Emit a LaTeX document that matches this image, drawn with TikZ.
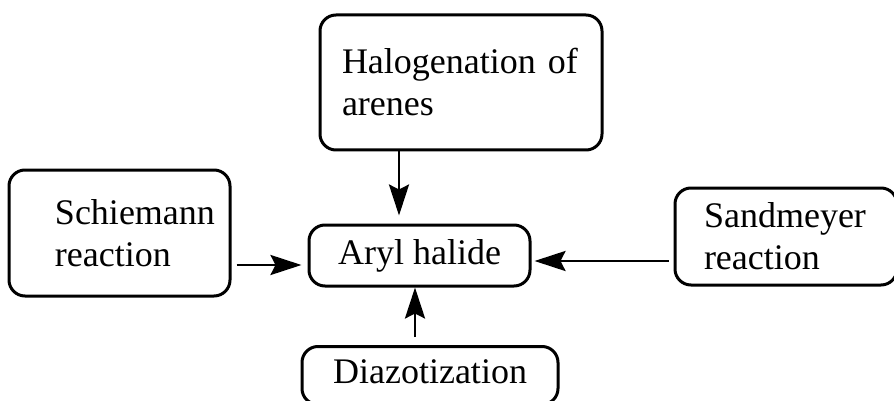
\documentclass[tikz,border=0pt]{standalone}
\usepackage{fontspec}
\setmainfont{Liberation Serif}
\usetikzlibrary{arrows.meta, positioning, calc}

\begin{document}
\begin{tikzpicture}[
  x=1pt, y=-1pt,
  font=\fontsize{36pt}{42pt}\selectfont,
  box/.style={draw=black, line width=3pt, rounded corners=16pt,
              inner sep=0pt, fill=white},
  wire/.style={line width=2.8pt, color=black},
  arr/.style={wire, -{Stealth[length=31pt, width=20pt, inset=5pt]}}
]
\useasboundingbox (0,0) rectangle (894,401);
\node[box, minimum width=282pt, minimum height=135pt, text width=238pt,
  align=left] (halo) at (461,82.5) {Halogenation of\\arenes};
\node[box, minimum width=221pt, minimum height=126pt, text width=200pt,
  align=left] (schie) at (119.5,233)
  {\hspace*{35.5pt}Schiemann\\\hspace*{35.5pt}reaction};
\node[box, minimum width=221pt, minimum height=61pt] (aryl) at (419.5,255.5)
  {Aryl halide};
\node[box, minimum width=222pt, minimum height=97pt, text width=164pt,
  align=left] (sand) at (786,236.5) {Sandmeyer\\reaction};
\node[box, minimum width=256pt, minimum height=58pt, text depth=8pt,
  anchor=north] (diazo) at (430,345) {Diazotization};
% arrows into the product
\draw[arr, shorten >=8pt] ([xshift=-62pt]halo.south) -- ([xshift=-20.5pt]aryl.north);
\draw[arr, shorten <=5pt, shorten >=6pt] ([yshift=-32pt]schie.east) -- ([yshift=-9.5pt]aryl.west);
\draw[arr, shorten <=5pt, shorten >=3pt] ([yshift=-24.5pt]sand.west) -- ([yshift=-5.5pt]aryl.east);
\draw[arr, shorten <=8pt] ([xshift=-15pt]diazo.north) -- ([xshift=-4.5pt]aryl.south);
\end{tikzpicture}
\end{document}
